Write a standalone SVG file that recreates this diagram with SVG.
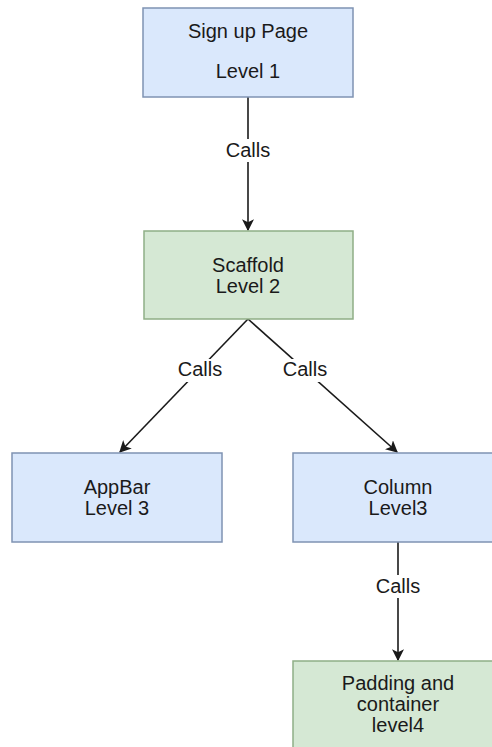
<svg xmlns="http://www.w3.org/2000/svg" width="492" height="747" viewBox="0 0 492 747">
<style>
.blue{fill:#dae8fc;stroke:#7f93b3;stroke-width:1.5}
.green{fill:#d5e8d4;stroke:#8fae86;stroke-width:1.5}
text{font-family:"Liberation Sans",Arial,sans-serif;font-size:20px;fill:#1a1a1a;text-anchor:middle}
.edge{stroke:#1a1a1a;stroke-width:1.6;fill:none}
.lbl{fill:#ffffff}
</style>
<defs>
<marker id="arr" viewBox="0 0 10 10" refX="9" refY="5" markerWidth="12" markerHeight="12" markerUnits="userSpaceOnUse" orient="auto">
<path d="M0,0 L10,5 L0,10 L2.5,5 Z" fill="#1a1a1a"/>
</marker>
</defs>
<rect width="492" height="747" fill="#ffffff"/>
<g id="connectors">
<line class="edge" x1="248" y1="97" x2="248" y2="230" marker-end="url(#arr)"/>
<rect class="lbl" x="224" y="139" width="48" height="23"/>
<text x="248" y="157">Calls</text>
<line class="edge" x1="248" y1="319" x2="120" y2="452" marker-end="url(#arr)"/>
<rect class="lbl" x="176" y="359" width="48" height="23"/>
<text x="200" y="376">Calls</text>
<line class="edge" x1="248" y1="319" x2="397" y2="452" marker-end="url(#arr)"/>
<rect class="lbl" x="281" y="359" width="48" height="23"/>
<text x="305" y="376">Calls</text>
<line class="edge" x1="398" y1="542" x2="398" y2="660" marker-end="url(#arr)"/>
<rect class="lbl" x="374" y="575" width="48" height="23"/>
<text x="398" y="593">Calls</text>
</g>
<g id="signup">
<rect class="blue" x="143" y="8" width="210" height="89"/>
<text x="248" y="38">Sign up Page</text>
<text x="248" y="78">Level 1</text>
</g>
<g id="scaffold">
<rect class="green" x="144" y="231" width="209" height="88"/>
<text x="248" y="272">Scaffold</text>
<text x="248" y="293">Level 2</text>
</g>
<g id="appbar">
<rect class="blue" x="12" y="453" width="210" height="89"/>
<text x="117" y="494">AppBar</text>
<text x="117" y="515">Level 3</text>
</g>
<g id="column">
<rect class="blue" x="293" y="453" width="210" height="89"/>
<text x="398" y="494">Column</text>
<text x="398" y="515">Level3</text>
</g>
<g id="padding">
<rect class="green" x="293" y="661" width="210" height="95"/>
<text x="398" y="690">Padding and</text>
<text x="398" y="711">container</text>
<text x="398" y="732">level4</text>
</g>
</svg>
